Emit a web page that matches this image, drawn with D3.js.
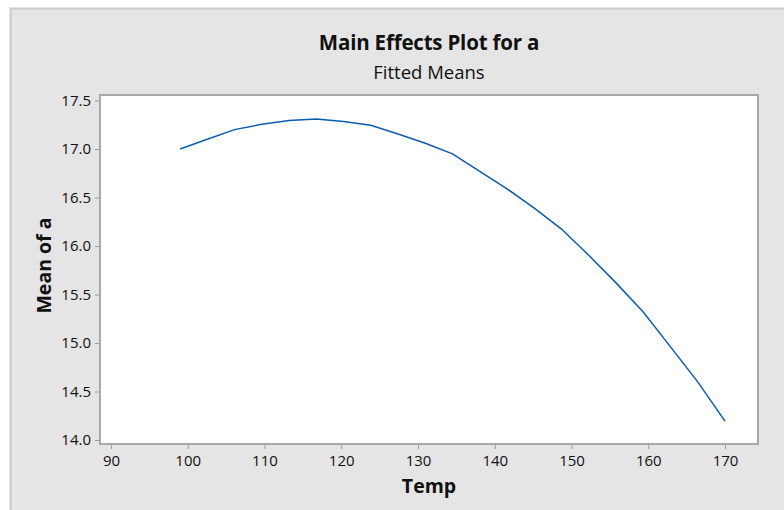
<!DOCTYPE html>
<html>
<head>
<meta charset="utf-8">
<script src="https://cdn.jsdelivr.net/npm/d3@7"></script>
<style>
  body { margin: 0; background: #fff; }
  text { font-family: "Open Sans", "Noto Sans", sans-serif; fill: #111; }
</style>
</head>
<body>
<div id="chart"></div>
<script>
// fitted means
var temps = [99, 102.55, 106.1, 109.65, 113.2, 116.75, 120.3, 123.85, 127.4, 130.95,
  134.5, 138.05, 141.6, 145.15, 148.7, 152.25, 155.8, 159.35, 162.9, 166.45, 170];
var means = [17.00, 17.10, 17.20, 17.255, 17.295, 17.31, 17.285, 17.245, 17.155, 17.06,
  16.95, 16.77, 16.59, 16.39, 16.175, 15.905, 15.62, 15.32, 14.96, 14.60, 14.195];
var xTicks = [90, 100, 110, 120, 130, 140, 150, 160, 170];
var yTicks = [14.0, 14.5, 15.0, 15.5, 16.0, 16.5, 17.0, 17.5];

var svgWidth = 784;
var svgHeight = 510;

var margin = { top: 95, right: 26, bottom: 66, left: 100 };
var width = svgWidth - margin.left - margin.right;
var height = svgHeight - margin.top - margin.bottom;

var svg = d3.select("#chart")
  .append("svg")
  .attr("width", svgWidth)
  .attr("height", svgHeight);

// grey panel behind everything
svg.append("rect")
  .attr("x", 10.5)
  .attr("y", 8.5)
  .attr("width", svgWidth)
  .attr("height", svgHeight)
  .attr("fill", "#e5e5e5")
  .attr("stroke", "#cacaca")
  .attr("stroke-width", 2);

svg.append("text")
  .attr("x", margin.left + width / 2)
  .attr("y", 50)
  .attr("text-anchor", "middle")
  .attr("font-size", "20.5px")
  .attr("font-weight", "bold")
  .attr("letter-spacing", "-0.2px")
  .text("Main Effects Plot for a");

svg.append("text")
  .attr("x", margin.left + width / 2)
  .attr("y", 79)
  .attr("text-anchor", "middle")
  .attr("font-size", "18.5px")
  .text("Fitted Means");

var chartGroup = svg.append("g")
  .attr("transform", `translate(${margin.left}, ${margin.top})`);

var xScale = d3.scaleLinear()
  .domain([88.57, 174.3])
  .range([0, width]);

var yScale = d3.scaleLinear()
  .domain([13.959, 17.557])
  .range([height, 0]);

chartGroup.append("rect")
  .attr("width", width)
  .attr("height", height)
  .attr("fill", "#fff");

var xAxis = d3.axisBottom(xScale).tickValues(xTicks).tickSize(5).tickSizeOuter(0)
  .tickFormat(d3.format("d"));
var yAxis = d3.axisLeft(yScale).tickValues(yTicks).tickSize(5).tickSizeOuter(0)
  .tickFormat(d3.format(".1f"));

var gx = chartGroup.append("g")
  .attr("transform", `translate(0,${height})`)
  .call(xAxis);

var gy = chartGroup.append("g")
  .call(yAxis);

[gx, gy].forEach((g) => {
  g.select(".domain").remove();
  g.selectAll(".tick line").attr("stroke", "#9a9a9a");
  g.selectAll(".tick text")
    .attr("font-family", "'Open Sans', 'Noto Sans', sans-serif")
    .attr("font-size", "15px")
    .attr("fill", "#111");
});
gx.selectAll(".tick text").attr("dy", "0.9em");
gy.selectAll(".tick text").attr("dx", "-1px");

// frame
chartGroup.append("rect")
  .attr("width", width)
  .attr("height", height)
  .attr("fill", "none")
  .attr("stroke", "#a8a8a8")
  .attr("stroke-width", 2);

var line = d3.line()
  .x((d, i) => xScale(temps[i]))
  .y(d => yScale(d));

chartGroup.append("path")
  .datum(means)
  .attr("d", line)
  .attr("fill", "none")
  .attr("stroke", "#0b5cad")
  .attr("stroke-width", 1.5);

svg.append("text")
  .attr("x", margin.left + width / 2)
  .attr("y", 493)
  .attr("text-anchor", "middle")
  .attr("font-size", "19.5px")
  .attr("font-weight", "bold")
  .text("Temp");

svg.append("text")
  .attr("transform", `translate(51, ${margin.top + height / 2 - 4}) rotate(-90)`)
  .attr("text-anchor", "middle")
  .attr("font-size", "19.5px")
  .attr("font-weight", "bold")
  .text("Mean of a");
</script>
</body>
</html>
